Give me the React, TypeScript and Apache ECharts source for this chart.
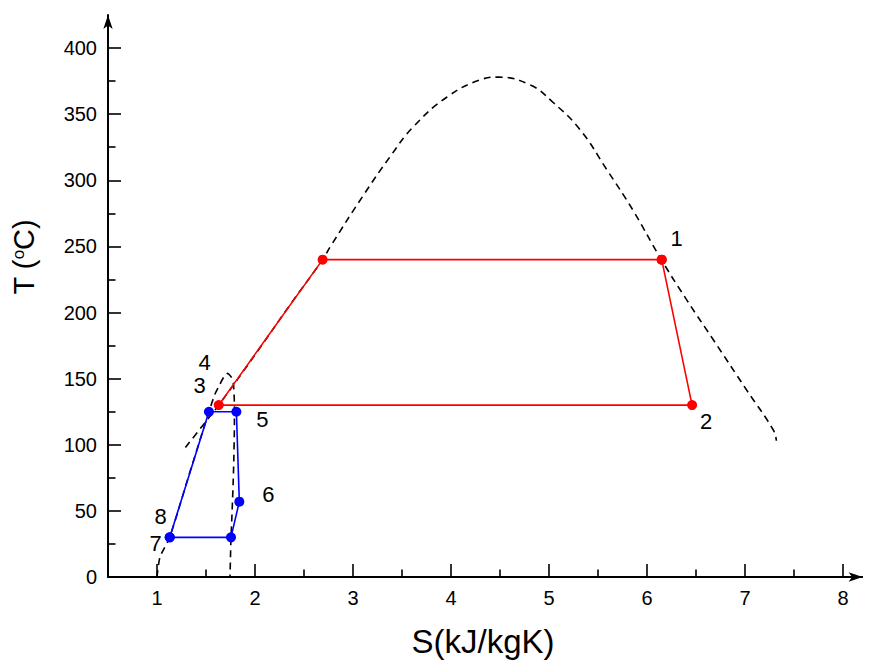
import React, { useEffect, useRef } from "react";
import * as echarts from "echarts";

// ---- Data ----
// Saturation dome of the topping fluid
const domeS = [1.29, 1.45, 1.63, 2.0, 2.35, 2.69, 2.77, 3.1, 3.38, 3.61, 3.96, 4.3, 4.48, 4.81, 5.04, 5.32, 5.59, 5.86, 6.13, 6.41, 6.68, 7.02, 7.29, 7.32];
const domeT = [98, 113, 130, 168, 205, 240, 250, 288, 318, 340, 363, 376, 378, 372, 359, 338, 308, 277, 242, 209, 179, 141, 111, 103];

// Saturation dome of the bottoming fluid
const smallDomeS = [1.0, 1.03, 1.13, 1.33, 1.53, 1.59, 1.63, 1.68, 1.72, 1.76, 1.78, 1.79, 1.79, 1.78, 1.762, 1.755, 1.745];
const smallDomeT = [0, 15, 30, 78, 125, 138, 144, 151, 154, 151, 146, 130, 116, 78, 41, 30, 0];

// Topping cycle (red): 1 -> 2 -> 3 -> saturated liquid -> 1
const redS = [6.15, 6.46, 1.63, 2.69, 6.15];
const redT = [240, 130, 130, 240, 240];

// Bottoming cycle (blue): 7/8 -> 4 -> 5 -> 6 -> 7' -> 7/8
const blueS = [1.13, 1.53, 1.81, 1.84, 1.755, 1.13];
const blueT = [30, 125, 125, 57, 30, 30];

// State labels and the point each label belongs to
const stateNames = ["1", "2", "3", "4", "5", "6", "7", "8"];
const stateS = [6.15, 6.46, 1.63, 1.63, 1.81, 1.84, 1.13, 1.13];
const stateT = [240, 130, 130, 130, 125, 57, 30, 30];

// Axis ticks
const xMajor = [1, 2, 3, 4, 5, 6, 7, 8];
const xMinor = [1.5, 2.5, 3.5, 4.5, 5.5, 6.5, 7.5];
const yMajor = [0, 50, 100, 150, 200, 250, 300, 350, 400];
const yMinor = [25, 75, 125, 175, 225, 275, 325, 375];

const xTitle = "S(kJ/kgK)";

// ---- Styling (not data) ----
const labelOffsets: number[][] = [
  [15, -21],
  [14, 16],
  [-19, -20],
  [-14, -43],
  [26, 8],
  [29, -7],
  [-14, 6],
  [-9, -21],
];

const FONT = "'Liberation Sans', Arial, sans-serif";

const zip = (a: number[], b: number[]) => a.map((v, i) => [v, b[i]]);

export default function App() {
  const ref = useRef<HTMLDivElement>(null);

  useEffect(() => {
    if (!ref.current) return;
    const chart = echarts.init(ref.current, undefined, { renderer: "svg" });

    const xRange = { min: 0.5, max: 8.2 };
    const yRange = { min: 0, max: 425 };

    const option: any = {
      animation: false,
      backgroundColor: "#fff",
      grid: { left: 108, top: 15, width: 754.6, height: 562, containLabel: false },
      xAxis: [
        {
          type: "value",
          position: "bottom",
          ...xRange,
          axisLine: {
            show: true,
            onZero: false,
            symbol: ["none", "arrow"],
            symbolSize: [7, 14],
            lineStyle: { color: "#000", width: 2 },
          },
          axisTick: { show: true, inside: true, length: 13, customValues: xMajor, lineStyle: { color: "#000", width: 1.6 } },
          axisLabel: {
            show: true,
            customValues: xMajor,
            formatter: (v: number) => String(v),
            fontSize: 20,
            color: "#000",
            fontFamily: FONT,
            margin: 11,
          },
          splitLine: { show: false },
        },
        {
          type: "value",
          position: "bottom",
          ...xRange,
          axisLine: { show: false, onZero: false },
          axisTick: { show: true, inside: true, length: 7.5, customValues: xMinor, lineStyle: { color: "#000", width: 1.6 } },
          axisLabel: { show: false },
          splitLine: { show: false },
        },
      ],
      yAxis: [
        {
          type: "value",
          position: "left",
          ...yRange,
          axisLine: {
            show: true,
            onZero: false,
            symbol: ["none", "arrow"],
            symbolSize: [7, 14],
            lineStyle: { color: "#000", width: 2 },
          },
          axisTick: { show: true, inside: true, length: 13, customValues: yMajor, lineStyle: { color: "#000", width: 1.6 } },
          axisLabel: {
            show: true,
            customValues: yMajor,
            formatter: (v: number) => String(v),
            fontSize: 20,
            color: "#000",
            fontFamily: FONT,
            margin: 11,
          },
          splitLine: { show: false },
        },
        {
          type: "value",
          position: "left",
          ...yRange,
          axisLine: { show: false, onZero: false },
          axisTick: { show: true, inside: true, length: 7.5, customValues: yMinor, lineStyle: { color: "#000", width: 1.6 } },
          axisLabel: { show: false },
          splitLine: { show: false },
        },
      ],
      series: [
        {
          name: "dome",
          type: "line",
          data: zip(domeS, domeT),
          smooth: 0.45,
          showSymbol: false,
          lineStyle: { color: "#000", width: 1.6, type: [7, 5] },
          silent: true,
          z: 1,
        },
        {
          name: "smallDome",
          type: "line",
          data: zip(smallDomeS, smallDomeT),
          smooth: 0.2,
          showSymbol: false,
          lineStyle: { color: "#000", width: 1.6, type: [7, 5] },
          silent: true,
          z: 1,
        },
        {
          name: "bottoming",
          type: "line",
          data: zip(blueS, blueT),
          symbol: "circle",
          symbolSize: 10,
          showSymbol: true,
          itemStyle: { color: "#0000ff" },
          lineStyle: { color: "#0000ff", width: 1.6 },
          z: 2,
        },
        {
          name: "topping",
          type: "line",
          data: zip(redS, redT),
          symbol: "circle",
          symbolSize: 10,
          showSymbol: true,
          itemStyle: { color: "#ff0000" },
          lineStyle: { color: "#ff0000", width: 1.6 },
          z: 3,
        },
        {
          name: "labels",
          type: "scatter",
          symbolSize: 0,
          itemStyle: { color: "#000", opacity: 1 },
          silent: true,
          z: 4,
          label: {
            show: true,
            position: "inside",
            formatter: "{b}",
            fontSize: 22,
            color: "#000",
            fontFamily: FONT,
          },
          data: stateNames.map((n, i) => ({
            name: n,
            value: [stateS[i], stateT[i]],
            label: { offset: labelOffsets[i] },
          })),
        },
      ],
      graphic: [
        {
          type: "text",
          x: 483,
          y: 641,
          style: {
            text: xTitle,
            fontSize: 33,
            fontFamily: FONT,
            fill: "#000",
            align: "center",
            verticalAlign: "middle",
          },
        },
        {
          type: "text",
          x: 24,
          y: 257,
          rotation: Math.PI / 2,
          style: {
            text: "T ({sup|o}C)",
            fontSize: 29,
            fontFamily: FONT,
            fill: "#000",
            align: "center",
            verticalAlign: "middle",
            rich: {
              sup: { fontSize: 17, fontFamily: FONT, fill: "#000", verticalAlign: "top" },
            },
          },
        },
      ],
    };

    chart.setOption(option);
    return () => chart.dispose();
  }, []);

  return <div ref={ref} style={{ width: 871, height: 668, margin: -8 }} />;
}
